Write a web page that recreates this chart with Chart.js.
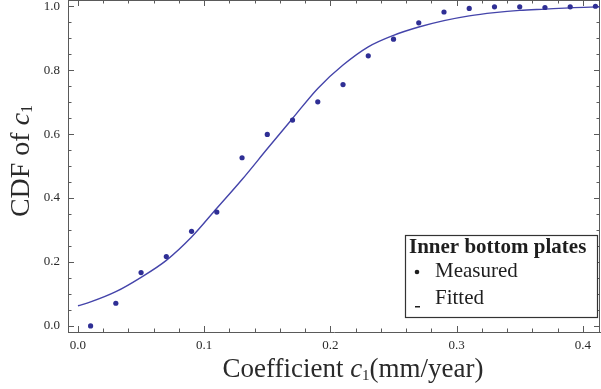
<!DOCTYPE html>
<html>
<head>
<meta charset="utf-8">
<script src="https://cdn.jsdelivr.net/npm/chart.js@4"></script>
<style>
  html, body { margin: 0; padding: 0; background: #fff; }
  #wrap { width: 601px; height: 389px; }
</style>
</head>
<body>
<div id="wrap"><canvas id="cdf"></canvas></div>
<script>
// measured CDF points
const measuredX = [0.01, 0.03, 0.05, 0.07, 0.09, 0.11, 0.13, 0.15, 0.17, 0.19, 0.21,
                   0.23, 0.25, 0.27, 0.29, 0.31, 0.33, 0.35, 0.37, 0.39, 0.41]
const measuredY = [0.0, 0.071, 0.167, 0.217, 0.296, 0.356, 0.526, 0.599, 0.644, 0.701, 0.755,
                   0.845, 0.897, 0.948, 0.982, 0.993, 0.998, 0.998, 0.996, 0.998, 1.0]

// fitted curve
const fittedX = [0.0, 0.01, 0.03, 0.05, 0.07, 0.09, 0.11, 0.13, 0.15, 0.17, 0.19,
                 0.21, 0.23, 0.25, 0.27, 0.29, 0.31, 0.33, 0.35, 0.37, 0.39, 0.414]
const fittedY = [0.063, 0.075, 0.107, 0.152, 0.205, 0.278, 0.368, 0.458, 0.554, 0.649, 0.743,
                 0.816, 0.873, 0.909, 0.935, 0.955, 0.970, 0.980, 0.987, 0.991, 0.995, 0.998]

const xTicks = [0.0, 0.1, 0.2, 0.3, 0.4]
const yTicks = [0.0, 0.2, 0.4, 0.6, 0.8, 1.0]
const legendTitle = "Inner bottom plates"

const serif = "'Liberation Serif', 'DejaVu Serif', serif"
const frameColor = "#5a5a5a"
const textColor = "#2a2a2a"

// draw a line of mixed text (regular / italic / subscript), centred on x
function richText(ctx, parts, x, y) {
  let total = 0
  parts.forEach(p => { ctx.font = p.font; total += ctx.measureText(p.text).width })
  let cx = x - total / 2
  parts.forEach(p => {
    ctx.font = p.font
    ctx.fillText(p.text, cx, y + (p.dy || 0))
    cx += ctx.measureText(p.text).width
  })
}

// no extra room for the edge labels, the box fills the canvas
function noPad(s) {
  s.paddingTop = 0
  s.paddingBottom = 0
  s.paddingLeft = 0
  s.paddingRight = 0
}

const framePlugin = {
  id: "frame",
  beforeDatasetsDraw(chart) {
    const {ctx, chartArea: a, scales} = chart
    ctx.save()
    ctx.strokeStyle = frameColor
    ctx.lineWidth = 1
    ctx.beginPath()
    // top and right edges of the box
    ctx.moveTo(a.left, a.top + 0.5); ctx.lineTo(a.right, a.top + 0.5)
    ctx.moveTo(a.right - 0.5, a.top); ctx.lineTo(a.right - 0.5, a.bottom)
    // x ticks, pointing inward
    for (let i = 0; i <= 20; i++) {
      const v = i * 0.02
      const px = Math.round(scales.x.getPixelForValue(v)) + 0.5
      const len = i % 5 == 0 ? 6 : 3.5
      ctx.moveTo(px, a.bottom); ctx.lineTo(px, a.bottom - len)
      ctx.moveTo(px, a.top); ctx.lineTo(px, a.top + len)
    }
    // y ticks
    for (let i = 0; i <= 20; i++) {
      const v = i * 0.05
      const py = Math.round(scales.y.getPixelForValue(v)) + 0.5
      const len = i % 4 == 0 ? 6 : 3.5
      ctx.moveTo(a.left, py); ctx.lineTo(a.left + len, py)
      ctx.moveTo(a.right, py); ctx.lineTo(a.right - len, py)
    }
    ctx.stroke()
    ctx.restore()
  },
  afterDraw(chart) {
    const {ctx} = chart
    ctx.save()
    ctx.fillStyle = textColor
    ctx.textBaseline = "alphabetic"
    ctx.textAlign = "left"

    // x axis title
    richText(ctx, [
      {text: "Coefficient ", font: "27px " + serif},
      {text: "c", font: "italic 27px " + serif},
      {text: "1", font: "15px " + serif, dy: 3},
      {text: "(mm/year)", font: "27px " + serif}
    ], 353, 377)

    // y axis title, rotated
    ctx.translate(29, 161)
    ctx.rotate(-Math.PI / 2)
    richText(ctx, [
      {text: "CDF of ", font: "28px " + serif},
      {text: "c", font: "italic 28px " + serif},
      {text: "1", font: "16px " + serif, dy: 3}
    ], 0, 0)
    ctx.restore()

    // legend box
    const ds = chart.data.datasets
    const bx = 405, by = 235, bw = 192, bh = 82
    ctx.save()
    ctx.fillStyle = "#fff"
    ctx.fillRect(bx, by, bw, bh)
    ctx.strokeStyle = "#333"
    ctx.lineWidth = 1.2
    ctx.strokeRect(bx + 0.5, by + 0.5, bw, bh)
    ctx.fillStyle = "#1e1e1e"
    ctx.font = "bold 21px " + serif
    ctx.fillText(legendTitle, bx + 4, by + 18)
    ctx.font = "21px " + serif
    ctx.fillText(ds[0].label, bx + 30, by + 42)
    ctx.fillText(ds[1].label, bx + 30, by + 69)
    // markers
    ctx.beginPath()
    ctx.arc(bx + 12, by + 37, 2.3, 0, Math.PI * 2)
    ctx.fill()
    ctx.fillRect(bx + 10, by + 71, 5, 1.5)
    ctx.restore()
  }
}

const ctx = document.getElementById("cdf")

new Chart(ctx, {
  type: "scatter",
  data: {
    datasets: [{
      label: "Measured",
      data: measuredX.map((x, i) => ({x: x, y: measuredY[i]})),
      pointRadius: 2.6,
      pointBackgroundColor: "#2f2f95",
      pointBorderWidth: 0,
      showLine: false,
      order: 1
    }, {
      label: "Fitted",
      data: fittedX.map((x, i) => ({x: x, y: fittedY[i]})),
      showLine: true,
      pointRadius: 0,
      borderColor: "#4444aa",
      borderWidth: 1.4,
      cubicInterpolationMode: "monotone",
      order: 2
    }]
  },
  options: {
    responsive: true,
    maintainAspectRatio: false,
    animation: false,
    layout: {
      autoPadding: false,
      padding: {top: 0, right: 1, left: 0, bottom: 0}
    },
    plugins: {
      legend: {display: false},
      tooltip: {enabled: false}
    },
    scales: {
      x: {
        type: "linear",
        min: -0.0079,
        max: 0.4136,
        afterFit: s => { s.height = 57; noPad(s) },
        afterBuildTicks: s => { s.ticks = xTicks.map(v => ({value: v})) },
        grid: {display: false, drawTicks: false},
        border: {display: true, color: frameColor, width: 1},
        ticks: {
          padding: 6,
          color: textColor,
          font: {family: serif, size: 13},
          callback: v => v.toFixed(1)
        }
      },
      y: {
        type: "linear",
        min: -0.019,
        max: 1.0195,
        afterFit: s => { s.width = 68; noPad(s) },
        afterBuildTicks: s => { s.ticks = yTicks.map(v => ({value: v})) },
        grid: {display: false, drawTicks: false},
        border: {display: true, color: frameColor, width: 1},
        ticks: {
          padding: 8,
          color: textColor,
          font: {family: serif, size: 13},
          callback: v => v.toFixed(1)
        }
      }
    }
  },
  plugins: [framePlugin]
})
</script>
</body>
</html>
